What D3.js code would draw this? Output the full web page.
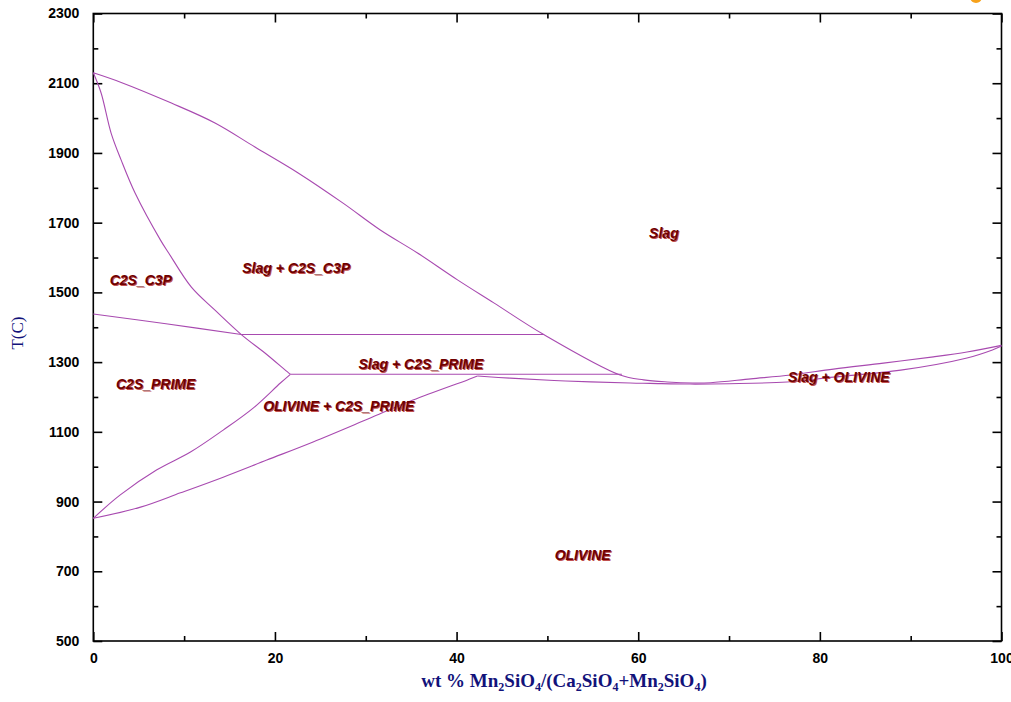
<!DOCTYPE html>
<html>
<head>
<meta charset="utf-8">
<script src="https://cdn.jsdelivr.net/npm/d3@7"></script>
<style>
  body { margin: 0; background: #fff; }
  svg { display: block; }
  .tick text { font-family: "Liberation Sans", Arial, sans-serif; font-weight: bold; font-size: 14px; fill: #000; }
  .region { font-family: "Liberation Sans", Arial, sans-serif; font-weight: bold; font-style: italic; font-size: 14px; }
</style>
</head>
<body>
<svg id="chart" width="1011" height="702"></svg>
<script>
// phase boundaries, [wt % Mn2SiO4, T (C)]
const slagLiquidus = [[0, 2130], [3, 2103], [8.6, 2043], [13.4, 1986], [17.8, 1917], [22.6, 1842], [27.5, 1756],
  [31.6, 1679], [35.7, 1613], [40.1, 1536], [44.1, 1470], [49.6, 1379], [58, 1263], [60.6, 1249], [63.2, 1243],
  [66, 1240], [68, 1241], [72.4, 1252], [76.8, 1263], [81.5, 1280], [87, 1297], [92.5, 1315], [96.2, 1329], [100, 1348]];
const c2sLiquidus = [[0, 2130], [0.86, 2072], [1.96, 1957], [3.06, 1880], [4.6, 1785], [7.4, 1650], [8.3, 1613],
  [10.8, 1515], [13.4, 1449], [16.3, 1379], [18.9, 1326], [21.5, 1269], [21.7, 1265]];
const c2sTransition = [[0, 1438], [8, 1410], [16.3, 1379]];
const c2sPrimeSolvus = [[21.7, 1265], [20.6, 1240], [17.6, 1168], [14.3, 1105], [10.7, 1042], [7, 991], [2.97, 919], [0, 852]];
const olivineSolvus = [[0, 852], [5.2, 884], [9.6, 925], [14.3, 970], [19.1, 1019], [24.2, 1071], [30.8, 1143],
  [35.2, 1191], [41.2, 1249], [42.3, 1260]];
const olivineSolidus = [[42.3, 1260], [45.9, 1254], [52, 1246], [59.1, 1240], [61.3, 1239], [65.7, 1237],
  [70, 1238], [76.4, 1243], [81.5, 1257], [88.9, 1277], [96.2, 1312], [99, 1335], [100, 1346]];
const isotherms = [
  { t: 1379, from: 16.3, to: 49.6 },
  { t: 1265, from: 21.7, to: 58.2 }
];

const regionNames = ['Slag', 'Slag + C2S_C3P', 'C2S_C3P', 'C2S_PRIME', 'Slag + C2S_PRIME', 'OLIVINE + C2S_PRIME', 'Slag + OLIVINE', 'OLIVINE'];
const regionX = [61.2, 16.4, 1.8, 2.5, 29.2, 18.7, 76.5, 50.8];
const regionT = [1657, 1555, 1521, 1223, 1280, 1159, 1242, 731];

const xTicks = [0, 20, 40, 60, 80, 100];
const xMinor = [10, 30, 50, 70, 90];
const yTicks = [500, 700, 900, 1100, 1300, 1500, 1700, 1900, 2100, 2300];
const yMinor = [600, 800, 1000, 1200, 1400, 1600, 1800, 2000, 2200];

const padL = 93.3, padR = 1001.5, padT = 13.5, padB = 641;

const svg = d3.select('#chart');

const x = d3.scaleLinear().domain([0, 100]).range([padL, padR]);
const y = d3.scaleLinear().domain([500, 2300]).range([padB, padT]);

// decoration in corner
svg.append('circle').attr('cx', 976).attr('cy', -3).attr('r', 6).attr('fill', '#f7a21b');

// axes
svg.append('g').attr('transform', `translate(${padL},0)`)
  .call(d3.axisLeft(y).tickValues(yTicks).tickSize(-9).tickPadding(14).tickFormat(d3.format('d')));
svg.append('g').attr('transform', `translate(${padL},0)`)
  .call(d3.axisLeft(y).tickValues(yMinor).tickSize(-5).tickFormat(''));
svg.append('g').attr('transform', `translate(${padR},0)`)
  .call(d3.axisRight(y).tickValues(yTicks).tickSize(-9).tickFormat(''));
svg.append('g').attr('transform', `translate(${padR},0)`)
  .call(d3.axisRight(y).tickValues(yMinor).tickSize(-5).tickFormat(''));
svg.append('g').attr('transform', `translate(0,${padB})`)
  .call(d3.axisBottom(x).tickValues(xTicks).tickSize(-9).tickPadding(12).tickFormat(d3.format('d')));
svg.append('g').attr('transform', `translate(0,${padB})`)
  .call(d3.axisBottom(x).tickValues(xMinor).tickSize(-5).tickFormat(''));
svg.append('g').attr('transform', `translate(0,${padT})`)
  .call(d3.axisTop(x).tickValues(xTicks).tickSize(-9).tickFormat(''));
svg.append('g').attr('transform', `translate(0,${padT})`)
  .call(d3.axisTop(x).tickValues(xMinor).tickSize(-5).tickFormat(''));

svg.selectAll('.domain').remove();
svg.selectAll('.tick line').attr('stroke', '#000').attr('stroke-width', 1.6);

svg.append('rect')
  .attr('x', padL).attr('y', padT)
  .attr('width', padR - padL).attr('height', padB - padT)
  .attr('fill', 'none').attr('stroke', '#000').attr('stroke-width', 1.6);

// phase boundaries (smoothed through the read points)
const line = d3.line().x(d => x(d[0])).y(d => y(d[1])).curve(d3.curveCatmullRom.alpha(0.5));
const curves = [slagLiquidus, c2sLiquidus, c2sTransition, c2sPrimeSolvus, olivineSolvus, olivineSolidus];
svg.append('g').selectAll('path')
  .data(curves)
  .enter()
  .append('path')
  .attr('d', line)
  .attr('fill', 'none')
  .attr('stroke', '#a84ab0')
  .attr('stroke-width', 1.1);

svg.append('g').selectAll('line')
  .data(isotherms)
  .enter()
  .append('line')
  .attr('x1', d => x(d.from)).attr('x2', d => x(d.to))
  .attr('y1', d => y(d.t)).attr('y2', d => y(d.t))
  .attr('stroke', '#a84ab0')
  .attr('stroke-width', 1.1);

// region labels
const labels = svg.append('g').selectAll('g')
  .data(regionNames)
  .enter()
  .append('g')
  .attr('transform', (d, i) => `translate(${x(regionX[i])},${y(regionT[i])})`);
labels.append('text')
  .attr('class', 'region')
  .attr('x', 1).attr('y', 1)
  .attr('fill', '#c05050')
  .text(d => d);
labels.append('text')
  .attr('class', 'region')
  .attr('fill', '#700000')
  .text(d => d);

// axis titles
const xt = svg.append('text')
  .attr('x', 564).attr('y', 687)
  .attr('text-anchor', 'middle')
  .attr('fill', '#12127a')
  .style('font-family', '"Liberation Serif", "Times New Roman", serif')
  .style('font-weight', 'bold')
  .style('font-size', '19px');
const parts = [['wt % Mn', 0], ['2', 1], ['SiO', 0], ['4', 1], ['/(Ca', 0], ['2', 1], ['SiO', 0], ['4', 1],
  ['+Mn', 0], ['2', 1], ['SiO', 0], ['4', 1], [')', 0]];
let shifted = 0;
parts.forEach(p => {
  const sub = p[1] === 1;
  const dy = sub ? (shifted ? 0 : 4) : (shifted ? -4 : 0);
  shifted = sub ? 1 : 0;
  xt.append('tspan')
    .attr('dy', dy)
    .style('font-size', sub ? '12px' : '19px')
    .text(p[0]);
});

svg.append('text')
  .attr('transform', 'translate(23,333) rotate(-90)')
  .attr('text-anchor', 'middle')
  .attr('fill', '#12127a')
  .style('font-family', '"Liberation Serif", "Times New Roman", serif')
  .style('font-size', '17px')
  .text('T(C)');
</script>
</body>
</html>
